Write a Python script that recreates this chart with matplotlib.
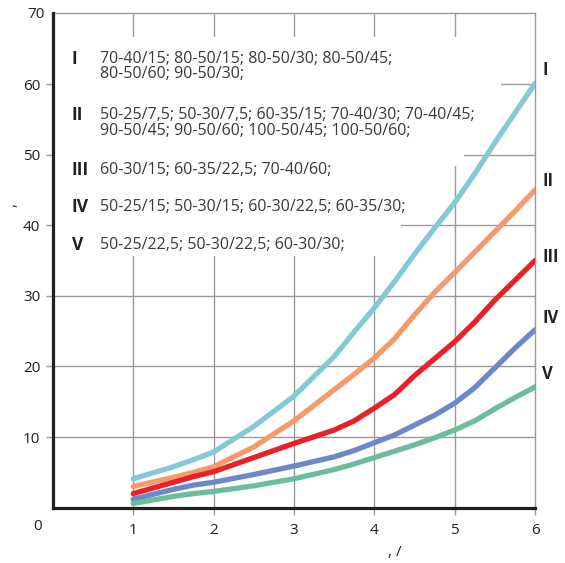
import matplotlib
matplotlib.use("Agg")
import numpy as np
from matplotlib import pyplot as plt
from matplotlib.patches import Polygon

# values
x_vals = [1, 1.5, 1.75, 2, 2.5, 3, 3.5, 3.75, 4, 4.25, 4.5, 4.75, 5, 5.25, 5.5, 5.75, 6]
curve_I = [4.1, 5.8, 6.8, 7.9, 11.5, 15.8, 21.4, 24.9, 28.3, 32.0, 35.9, 39.6, 43.2, 47.3, 51.7, 55.9, 60.1]
curve_II = [3.0, 4.3, 5.0, 5.8, 8.6, 12.3, 16.7, 18.9, 21.2, 23.9, 27.3, 30.5, 33.3, 36.2, 39.1, 42.0, 45.0]
curve_III = [2.0, 3.6, 4.4, 5.1, 7.1, 9.1, 11.0, 12.3, 14.1, 16.0, 18.7, 21.1, 23.5, 26.3, 29.4, 32.2, 35.0]
curve_IV = [1.2, 2.6, 3.2, 3.6, 4.7, 5.9, 7.2, 8.1, 9.2, 10.3, 11.7, 13.1, 14.8, 17.0, 19.8, 22.6, 25.2]
curve_V = [0.6, 1.6, 2.0, 2.3, 3.1, 4.1, 5.4, 6.2, 7.1, 8.0, 8.9, 9.9, 11.0, 12.3, 14.0, 15.6, 17.1]

roman = ["I", "II", "III", "IV", "V"]
groups = [
    "70-40/15; 80-50/15; 80-50/30; 80-50/45;\n80-50/60; 90-50/30;",
    "50-25/7,5; 50-30/7,5; 60-35/15; 70-40/30; 70-40/45;\n90-50/45; 90-50/60; 100-50/45; 100-50/60;",
    "60-30/15; 60-35/22,5; 70-40/60;",
    "50-25/15; 50-30/15; 60-30/22,5; 60-35/30;",
    "50-25/22,5; 50-30/22,5; 60-30/30;",
]
x_ticks = [1, 2, 3, 4, 5, 6]
y_ticks = [10, 20, 30, 40, 50, 60, 70]

colors = ["#85c9d4", "#f59b69", "#e8202a", "#6c88c8", "#6dbd9b"]

plt.rcParams['font.family'] = ['Open Sans', 'DejaVu Sans']

fig = plt.figure(figsize=(5.65, 5.63), dpi=100)
ax = fig.add_axes([0.0935, 0.0982, 0.8535, 0.8780])
ax.set_xlim(0, 6)
ax.set_ylim(0, 70)

grid_col = "#9a9a9c"
for xv in x_ticks[:-1]:
    ax.axvline(xv, color=grid_col, lw=1.0, zorder=1)
for yv in y_ticks[:-1]:
    ax.axhline(yv, color=grid_col, lw=1.0, zorder=1)

# white area behind the legend text
box = Polygon([(0, 66.7), (5.58, 66.7), (5.58, 52.5), (5.11, 52.5), (5.11, 48.4),
               (4.33, 48.4), (4.33, 35.6), (0, 35.6)],
              closed=True, facecolor="white", edgecolor="none", zorder=1.5)
ax.add_patch(box)

curves = [curve_I, curve_II, curve_III, curve_IV, curve_V]
for ys, c in zip(curves, colors):
    ax.plot(x_vals, ys, color=c, lw=3.8, solid_capstyle="round", solid_joinstyle="round", zorder=3)

# labels at the line ends
end_dy = [1.9, 1.2, 0.55, 1.7, 1.9]
for r, ys, dy in zip(roman, curves, end_dy):
    ax.text(6.09, ys[-1] + dy, r, fontsize=12, fontweight="bold", color="#231f20",
            ha="left", va="center", clip_on=False)

# legend text block
line_y = [63.6, 55.55, 47.8, 42.6, 37.15]
line_gap = 2.15
for r, g, yy in zip(roman, groups, line_y):
    ax.text(0.235, yy, r, fontsize=12.5, fontweight="bold", color="#231f20", va="center", zorder=4)
    for i, part in enumerate(g.split("\n")):
        ax.text(0.587, yy - i * line_gap, part, fontsize=11.5, color="#3a3a3a", va="center", zorder=4)

for s in ["left", "bottom"]:
    ax.spines[s].set_color("#231f20")
    ax.spines[s].set_linewidth(2.3)
    ax.spines[s].set_zorder(5)
for s in ["top", "right"]:
    ax.spines[s].set_color(grid_col)
    ax.spines[s].set_linewidth(1.0)

ax.set_xticks(x_ticks)
ax.set_yticks(y_ticks[:-1])
ax.tick_params(axis="both", color=grid_col, length=5, width=1.0, labelsize=11,
               labelcolor="#231f20", pad=4)
ax.tick_params(axis="x", pad=6)
fig.text(38 / 565, 1 - 526 / 563, "0", fontsize=11, color="#231f20", ha="center", va="center")
fig.text(45 / 565, 1 - 15 / 563, "70", fontsize=11, color="#231f20", ha="right", va="center")

fig.text(12 / 565, 1 - 205 / 563, ",", fontsize=11, color="#231f20", ha="center", va="center",
         rotation=90)
fig.text(395 / 565, 1 - 552 / 563, ", /", fontsize=11, color="#231f20", ha="center", va="center")

fig.savefig("out.png", dpi=100)
